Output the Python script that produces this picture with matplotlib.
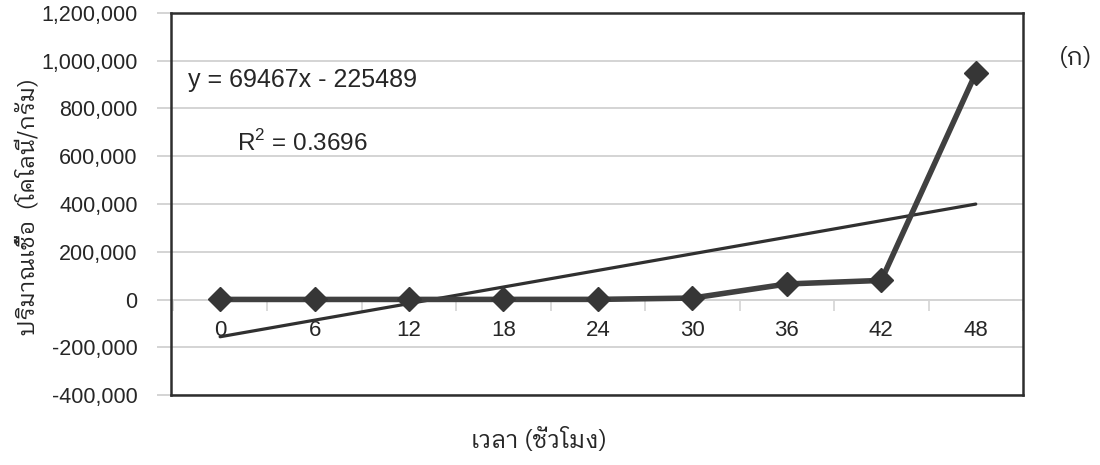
import matplotlib
matplotlib.use("Agg")
import matplotlib.pyplot as plt
from matplotlib import font_manager as fm
from matplotlib.ft2font import FT2Font
from matplotlib.ticker import FuncFormatter, FixedLocator
import numpy as np

# ---------------- data ----------------
hours = ["0", "6", "12", "18", "24", "30", "36", "42", "48"]
counts = [300, 200, 300, 400, 500, 6000, 65000, 80000, 948000]
trend_slope = 69467
trend_intercept = -225489
equation_text = "y = 69467x - 225489"
r2_text = "R$^2$ = 0.3696"
y_ticks = [-400000, -200000, 0, 200000, 400000, 600000, 800000, 1000000, 1200000]
y_label = "ปริมาณเชื้อ  (โคโลนี/กรัม)"
x_label = "เวลา (ชั่วโมง)"
panel_label = "(ก)"

# ---------------- fonts ----------------
def find_thai_font():
    best = None
    for f in fm.fontManager.ttflist:
        try:
            cm = FT2Font(f.fname).get_charmap()
        except Exception:
            continue
        if 0x0E01 in cm and 0x0E35 in cm:
            name = f.name
            score = 0
            if "Sans" in name:
                score += 2
            if "Looped" in name:
                score += 3
            if "UI" in name:
                score -= 1
            if best is None or score > best[0]:
                best = (score, name)
    return best[1] if best else None

thai_font = find_thai_font()
num_family = ["Liberation Sans", "DejaVu Sans"]
thai_family = ([thai_font] if thai_font else []) + ["Liberation Sans", "DejaVu Sans"]
plt.rcParams["font.family"] = num_family
plt.rcParams["mathtext.fontset"] = "custom"
plt.rcParams["mathtext.rm"] = "Liberation Sans"

TXT = "#262626"
GRID = "#d4d4d4"

fig = plt.figure(figsize=(11, 4.65), dpi=100)
ax = fig.add_axes([171 / 1100, 70 / 465, (1023 - 171) / 1100, (395 - 13) / 465])

x = np.arange(len(hours))
ax.set_xlim(-0.52, len(hours) - 0.5)
ax.set_ylim(y_ticks[0], y_ticks[-1])

# grid
ax.yaxis.set_major_locator(FixedLocator(y_ticks))
ax.grid(axis="y", color=GRID, linewidth=1.4, zorder=0)
ax.yaxis.set_major_formatter(FuncFormatter(lambda v, p: f"{int(v):,}"))
ax.tick_params(axis="y", direction="out", length=10, width=1.4, color=GRID,
               labelsize=15.5, labelcolor=TXT, pad=14)
ax.tick_params(axis="x", bottom=False, labelbottom=False)
for s in ax.spines.values():
    s.set_color("#2e2e2e")
    s.set_linewidth(1.8)

# trend line
xt = np.array([x[0], x[-1]])
ax.plot(xt, trend_slope * (xt + 1) + trend_intercept, color="#303030",
        linewidth=2.3, solid_capstyle="round", zorder=3)

# data series
ax.plot(x, counts, color="#404040", linewidth=4, marker="D", markersize=12.5,
        markerfacecolor="#363636", markeredgecolor="#363636", zorder=4)

# category axis crossing at y = 0
y0 = (0 - y_ticks[0]) / (y_ticks[-1] - y_ticks[0])
sec = ax.secondary_xaxis(y0)
sec.set_xticks(x)
sec.set_xticklabels(hours)
sec.xaxis.set_minor_locator(FixedLocator(np.arange(-0.5, len(hours) - 0.4, 1.0)))
sec.tick_params(axis="x", which="major", length=0, labelsize=16, labelcolor=TXT, pad=15)
sec.tick_params(axis="x", which="minor", length=8, width=1.2, color=GRID, direction="out")
sec.spines["bottom"].set_color(GRID)
sec.spines["bottom"].set_linewidth(1.4)

# annotations
ax.text(0.02, 0.824, equation_text, transform=ax.transAxes, fontsize=18,
        color=TXT, ha="left", va="center")
ax.text(0.077, 0.66, r2_text, transform=ax.transAxes, fontsize=17.5,
        color=TXT, ha="left", va="center")

fig.text(28 / 1100, 1 - 207 / 465, y_label, rotation=90, ha="center", va="center",
         fontsize=16.5, color=TXT, family=thai_family)
fig.text(539 / 1100, 1 - 440 / 465, x_label, ha="center", va="center",
         fontsize=17.5, color=TXT, family=thai_family)
fig.text(1076 / 1100, 1 - 58 / 465, panel_label, ha="center", va="center",
         fontsize=18, color=TXT, family=thai_family)

fig.savefig("out.png", dpi=100, facecolor="white")
